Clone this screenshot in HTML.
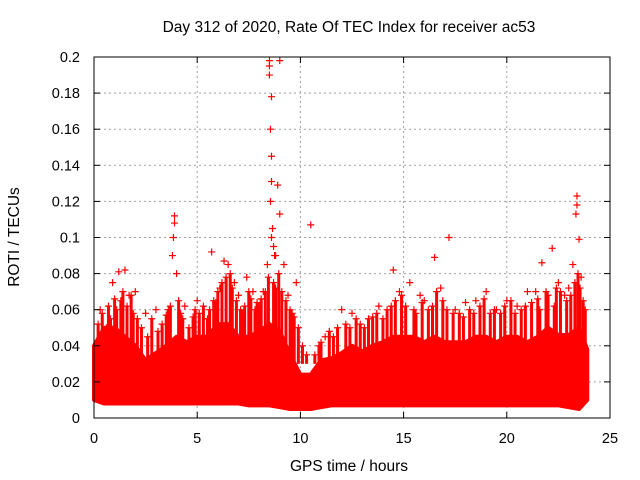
<!DOCTYPE html>
<html><head><meta charset="utf-8"><style>
body{margin:0;background:#fff}
svg{display:block;font-family:"Liberation Sans",sans-serif}
</style></head><body>
<svg id="c" width="640" height="480" xmlns="http://www.w3.org/2000/svg">
<rect width="640" height="480" fill="#fff"/>
<text x="349" y="32" font-size="15.5" text-anchor="middle">Day 312 of 2020, Rate Of TEC Index for receiver ac53</text>
<text x="349" y="471" font-size="15.5" text-anchor="middle">GPS time / hours</text>
<text transform="translate(19,237) rotate(-90)" font-size="15.5" text-anchor="middle">ROTI / TECUs</text>
<g id="grid"></g><g id="marks"></g><g id="axes"></g>
</svg>
<script>
const xTicks=[0,5,10,15,20,25];
const yTicks=[0,0.02,0.04,0.06,0.08,0.1,0.12,0.14,0.16,0.18,0.2];
const yTickLabels=["0","0.02","0.04","0.06","0.08","0.1","0.12","0.14","0.16","0.18","0.2"];
const bandTimes=[0,0.5,1,1.5,2,2.5,3,3.5,4,4.5,5,5.5,6,6.5,7,7.5,8,8.5,9,9.5,10,10.5,11,11.5,12,12.5,13,13.5,14,14.5,15,15.5,16,16.5,17,17.5,18,18.5,19,19.5,20,20.5,21,21.5,22,22.5,23,23.5,23.9];
const bandHigh=[0.04,0.05,0.05,0.045,0.04,0.032,0.036,0.04,0.045,0.042,0.045,0.045,0.052,0.052,0.045,0.045,0.048,0.052,0.048,0.035,0.024,0.024,0.032,0.033,0.036,0.04,0.037,0.04,0.042,0.045,0.045,0.045,0.042,0.045,0.042,0.042,0.042,0.045,0.045,0.042,0.045,0.045,0.042,0.045,0.05,0.046,0.046,0.05,0.038];
const bandLow=[0.01,0.008,0.008,0.008,0.008,0.008,0.008,0.008,0.008,0.008,0.008,0.008,0.008,0.008,0.008,0.007,0.007,0.007,0.006,0.005,0.005,0.005,0.006,0.007,0.007,0.007,0.007,0.007,0.007,0.007,0.007,0.007,0.007,0.007,0.007,0.007,0.007,0.007,0.007,0.007,0.007,0.007,0.007,0.007,0.007,0.007,0.006,0.005,0.01];
const outT=[8.5,8.5,8.5,8.6,8.55,8.6,8.6,8.9,9.0,8.55,9.0,3.9,3.9,3.85,3.8,10.5,23.4,23.4,23.35,23.5,17.2,5.7,22.2,16.5,6.3,14.5,8.7,8.6,8.8,9.2,1.2,1.5,4.0,6.5,7.4,9.8,21.7,22.5,23.2,0.9,2.0,3.0,6.8,12.0,13.8,15.3,18.5,19.5,20.5,11.2,12.5,16.0,17.5,19.0,20.0,21.0,23.0,0.3,2.5,5.0,7.0,8.2,8.4,8.65,8.75,1.7,4.4,6.1,7.7,9.4,14.8,15.8,16.8,18.0,21.4,22.8,23.6];
const outV=[0.198,0.195,0.19,0.178,0.16,0.145,0.131,0.129,0.198,0.12,0.113,0.112,0.108,0.1,0.09,0.107,0.123,0.118,0.113,0.099,0.1,0.092,0.094,0.089,0.087,0.082,0.095,0.1,0.09,0.085,0.081,0.082,0.08,0.085,0.078,0.075,0.086,0.075,0.085,0.075,0.07,0.06,0.075,0.06,0.062,0.075,0.065,0.06,0.062,0.045,0.058,0.065,0.06,0.07,0.065,0.07,0.072,0.06,0.058,0.065,0.068,0.07,0.085,0.105,0.09,0.068,0.062,0.072,0.07,0.068,0.07,0.068,0.072,0.064,0.07,0.068,0.078];
const spikeT=[0.2,0.4,0.6,0.7,0.8,1.0,1.1,1.3,1.4,1.6,1.8,1.9,2.1,2.3,2.6,2.8,3.1,3.3,3.5,3.6,3.7,4.1,4.2,4.3,4.6,4.8,4.9,5.1,5.3,5.5,5.6,5.8,5.9,6.0,6.2,6.4,6.6,6.7,6.9,7.1,7.2,7.3,7.5,7.6,7.8,7.9,8.0,8.1,8.3,8.45,8.7,8.8,8.95,9.1,9.3,9.5,9.6,9.7,9.9,10.1,10.3,10.7,10.9,11.0,11.4,11.6,11.8,12.2,12.4,12.7,12.9,13.1,13.3,13.5,13.7,14.0,14.2,14.4,14.6,14.9,15.1,15.5,15.6,15.9,16.2,16.4,16.6,16.9,17.1,17.4,17.7,17.9,18.2,18.4,18.7,18.9,19.2,19.4,19.7,19.9,20.2,20.4,20.7,20.9,21.2,21.5,21.6,21.9,22.0,22.3,22.4,22.6,22.9,23.1,23.3,23.45,23.55,23.7,23.8];
const spikeV=[0.052,0.058,0.05,0.062,0.055,0.066,0.06,0.065,0.07,0.062,0.068,0.058,0.055,0.05,0.045,0.055,0.048,0.052,0.057,0.06,0.062,0.065,0.058,0.055,0.05,0.056,0.06,0.058,0.062,0.055,0.06,0.065,0.064,0.07,0.075,0.078,0.08,0.072,0.065,0.06,0.058,0.062,0.07,0.066,0.06,0.064,0.062,0.066,0.07,0.078,0.075,0.072,0.08,0.07,0.065,0.06,0.058,0.056,0.05,0.04,0.035,0.035,0.04,0.042,0.048,0.045,0.05,0.052,0.05,0.055,0.052,0.05,0.055,0.056,0.058,0.055,0.06,0.062,0.065,0.068,0.062,0.06,0.058,0.064,0.06,0.062,0.07,0.065,0.06,0.058,0.058,0.056,0.06,0.058,0.062,0.066,0.058,0.06,0.058,0.062,0.065,0.058,0.06,0.062,0.064,0.066,0.06,0.07,0.068,0.062,0.072,0.07,0.065,0.068,0.075,0.08,0.072,0.065,0.06];
const X0=94,X1=610,Y0=418,Y1=57;
const sx=v=>X0+(v/25)*(X1-X0);
const sy=v=>Y0-(v/0.2)*(Y0-Y1);
const NS="http://www.w3.org/2000/svg";
function mk(t,a,p){const e=document.createElementNS(NS,t);for(const k in a)e.setAttribute(k,a[k]);p.appendChild(e);return e;}
const grid=document.getElementById('grid'),marks=document.getElementById('marks'),axes=document.getElementById('axes');
yTicks.forEach((v,i)=>{
 if(i>0&&i<yTicks.length-1){const g=mk('line',{x1:X0,x2:X1,y1:sy(v),y2:sy(v),stroke:'#a0a0a0','stroke-dasharray':'2,3'},grid);
 
 }
 const t=mk('text',{x:80,y:sy(v)+5,'font-size':14.5,'text-anchor':'end'},axes);t.textContent=yTickLabels[i];
 
 
 mk('line',{x1:X0,x2:X0+6,y1:sy(v),y2:sy(v),stroke:'#000'},axes);
 mk('line',{x1:X1,x2:X1-6,y1:sy(v),y2:sy(v),stroke:'#000'},axes);
});
xTicks.forEach(v=>{
 if(v>0&&v<25){const g=mk('line',{x1:sx(v),x2:sx(v),y1:Y0,y2:Y1,stroke:'#a0a0a0','stroke-dasharray':'2,3'},grid);
 
 }
 const t=mk('text',{x:sx(v),y:443,'font-size':14.5,'text-anchor':'middle'},axes);t.textContent=v;
 
 
 mk('line',{x1:sx(v),x2:sx(v),y1:Y0,y2:Y0-6,stroke:'#000'},axes);
 mk('line',{x1:sx(v),x2:sx(v),y1:Y1,y2:Y1+6,stroke:'#000'},axes);
});
const fr=mk('rect',{x:X0,y:Y1,width:X1-X0,height:Y0-Y1,fill:'none',stroke:'#000'},axes);


let pts=bandTimes.map((t,i)=>sx(t)+','+sy(bandHigh[i]));
for(let i=bandTimes.length-1;i>=0;i--)pts.push(sx(bandTimes[i])+','+sy(bandLow[i]));
const band=mk('polygon',{points:pts.join(' '),fill:'#ff0000',stroke:'#ff0000','stroke-width':4,'stroke-linejoin':'round'},marks);


spikeT.forEach((t,i)=>{
 const x=sx(t),y=sy(spikeV[i]);
 const s=mk('line',{x1:x,x2:x,y1:y,y2:sy(0.03),stroke:'#ff0000','stroke-width':3},marks);
 
 
 const p=mk('path',{d:`M${x-3.5},${y}H${x+3.5}M${x},${y-3.5}V${y+3.5}`,stroke:'#ff0000','stroke-width':1.2},marks);
 
 
});
outT.forEach((t,i)=>{
 const x=sx(t),y=sy(outV[i]);
 const p=mk('path',{d:`M${x-3.5},${y}H${x+3.5}M${x},${y-3.5}V${y+3.5}`,stroke:'#ff0000','stroke-width':1.2},marks);
 
 
});
</script>
</body></html>
